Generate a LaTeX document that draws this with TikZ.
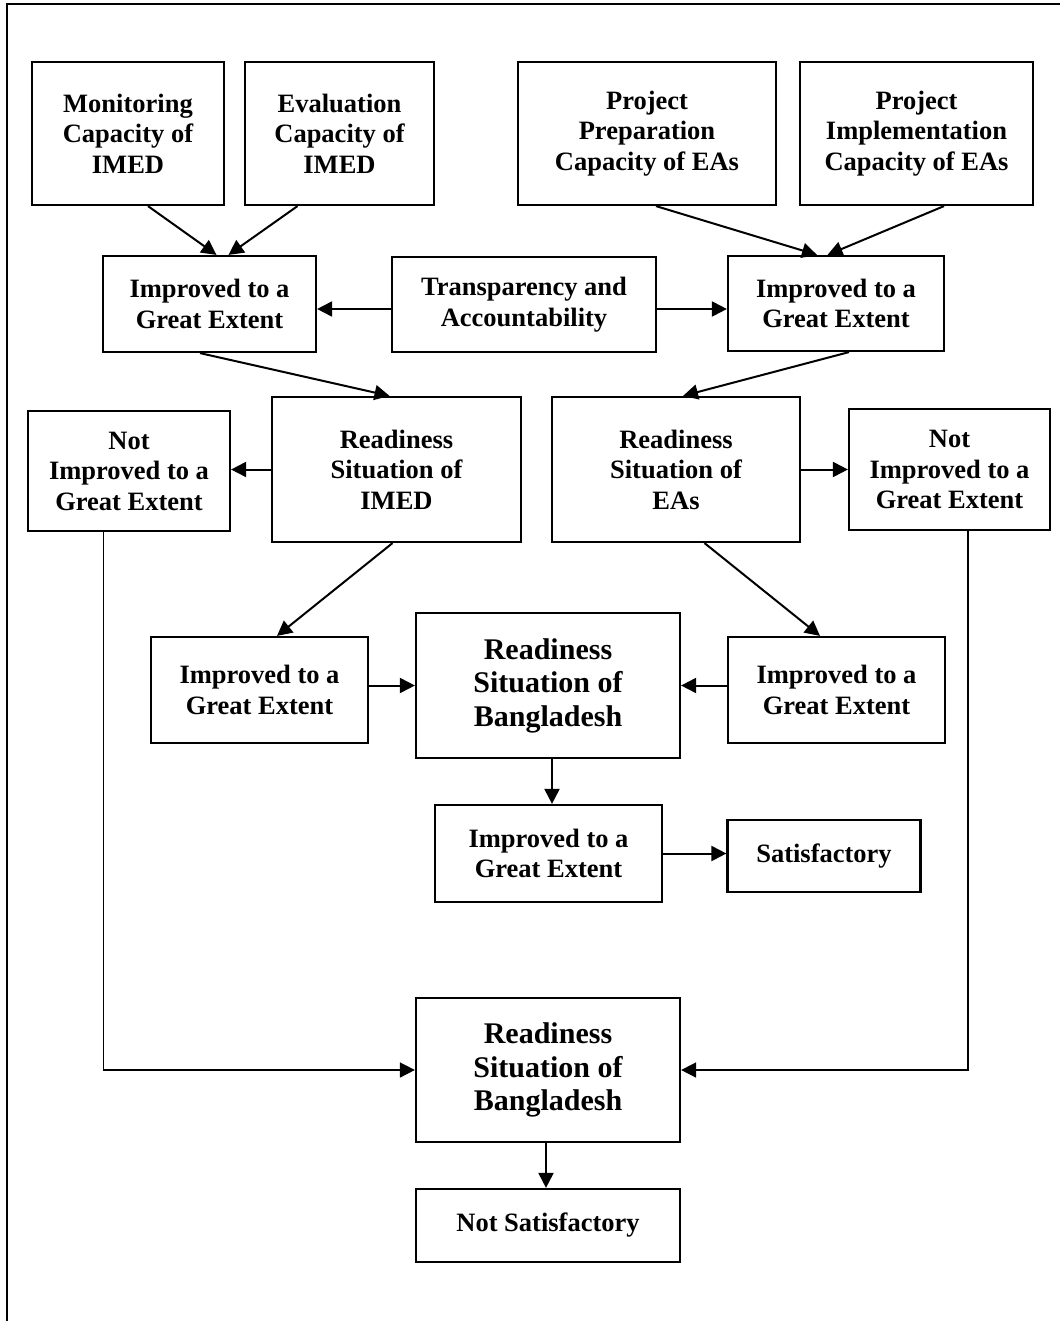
\documentclass[tikz,border=0pt]{standalone}
\usepackage{fontspec}
\setmainfont{Liberation Serif}
\usetikzlibrary{arrows.meta, positioning, calc}

\begin{document}
\begin{tikzpicture}[x=1pt, y=1pt,
    box/.style={draw=black, line width=2.2pt, align=center, inner sep=0pt,
      font=\fontsize{26.5}{30.5}\selectfont\bfseries},
    bigbox/.style={box, font=\fontsize{30}{33.5}\selectfont\bfseries},
    arr/.style={-{Triangle[length=15pt, width=15pt]}, line width=2pt},
    feed/.style={-{Triangle[length=15pt, width=15pt]}, line width=1.6pt}]
  \useasboundingbox (0,0) rectangle (1060,-1321);

  % Page frame (top and left edges only)
  \draw[line width=1.6pt] (7,-1321) -- (7,-4) -- (1060,-4);

  % Capacity boxes - top row
  \node[box, minimum width=192pt, minimum height=143pt] (mon) at (128,-133.5) {Monitoring\\Capacity of\\IMED};
  \node[box, minimum width=189pt, minimum height=143pt] (eva) at (339.5,-133.5) {Evaluation\\Capacity of\\IMED};
  \node[box, minimum width=258pt, minimum height=143pt] (prep) at (647,-133.5) {Project\\Preparation\\Capacity of EAs};
  \node[box, minimum width=233pt, minimum height=143pt] (impl) at (916.5,-133.5) {Project\\Implementation\\Capacity of EAs};

  % Second row
  \node[box, minimum width=213pt, minimum height=96pt] (impL1) at (209.5,-304) {Improved to a\\Great Extent};
  \node[box, minimum width=264pt, minimum height=95pt] (tra) at (524,-304.5) {Transparency and\\Accountability};
  \node[box, minimum width=216pt, minimum height=95pt] (impR1) at (836,-303.5) {Improved to a\\Great Extent};

  % Readiness of IMED and EAs
  \node[box, minimum width=202pt, minimum height=120pt] (notL) at (129,-471) {Not\\Improved to a\\Great Extent};
  \node[box, minimum width=249pt, minimum height=145pt] (imed) at (396.5,-469.5) {Readiness\\Situation of\\IMED};
  \node[box, minimum width=248pt, minimum height=145pt] (eas) at (676,-469.5) {Readiness\\Situation of\\EAs};
  \node[box, minimum width=201pt, minimum height=121pt] (notR) at (949.5,-469.5) {Not\\Improved to a\\Great Extent};

  % Readiness of Bangladesh - improved branch
  \node[box, minimum width=217pt, minimum height=106pt] (impL2) at (259.5,-690) {Improved to a\\Great Extent};
  \node[bigbox, minimum width=264pt, minimum height=145pt] (bd1) at (548,-685.5) {Readiness\\Situation of\\Bangladesh};
  \node[box, minimum width=217pt, minimum height=106pt] (impR2) at (836.5,-690) {Improved to a\\Great Extent};
  \node[box, minimum width=227pt, minimum height=97pt] (impC) at (548.5,-853.5) {Improved to a\\Great Extent};
  \node[box, minimum width=193pt, minimum height=72pt] (sat) at (824,-856) {Satisfactory};

  % Readiness of Bangladesh - not improved branch
  \node[bigbox, minimum width=264pt, minimum height=144pt] (bd2) at (548,-1070) {Readiness\\Situation of\\Bangladesh};
  \node[box, minimum width=264pt, minimum height=73pt] (nsat) at (548,-1225.5) {Not Satisfactory};

  % Connectors into the second row
  \draw[arr] ([xshift=20pt]mon.south) -- ([xshift=7pt]impL1.north);
  \draw[arr] ([xshift=-42pt]eva.south) -- ([xshift=19pt]impL1.north);
  \draw[arr] ([xshift=9pt]prep.south) -- ([xshift=-19pt]impR1.north);
  \draw[arr] ([xshift=27.5pt]impl.south) -- ([xshift=-8.5pt]impR1.north);
  \draw[arr] ([yshift=-4.5pt]tra.west) -- ([yshift=-4.5pt]tra.west -| impL1.east);
  \draw[arr] ([yshift=-4.5pt]tra.east) -- ([yshift=-4.5pt]tra.east -| impR1.west);

  % Connectors into the readiness row
  \draw[arr] ([xshift=-9.5pt]impL1.south) -- ([xshift=-7pt]imed.north);
  \draw[arr] ([xshift=13pt]impR1.south) -- ([xshift=7pt]eas.north);
  \draw[arr] (imed.west) -- (imed.west -| notL.east);
  \draw[arr] (eas.east) -- (eas.east -| notR.west);
  \draw[arr] ([xshift=-4pt]imed.south) -- ([xshift=17.5pt]impL2.north);
  \draw[arr] ([xshift=28.5pt]eas.south) -- ([xshift=-16.5pt]impR2.north);

  % Connectors into Bangladesh
  \draw[arr] (bd1.west -| impL2.east) -- (bd1.west);
  \draw[arr] (bd1.east -| impR2.west) -- (bd1.east);
  \draw[arr] ([xshift=4pt]bd1.south) -- ([xshift=4pt]bd1.south |- impC.north);
  \draw[arr] (impC.east) -- (impC.east -| sat.west);

  % Not improved paths
  \draw[feed] ([xshift=-25.5pt]notL.south) |- (bd2.west);
  \draw[feed] ([xshift=18.5pt]notR.south) |- (bd2.east);
  \draw[arr] ([xshift=-2pt]bd2.south) -- ([xshift=-2pt]nsat.north);
\end{tikzpicture}
\end{document}
